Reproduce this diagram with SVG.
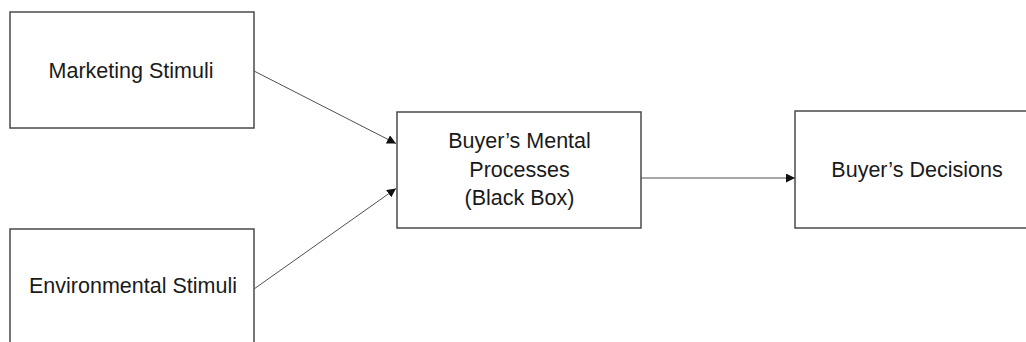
<svg xmlns="http://www.w3.org/2000/svg" width="1026" height="342" viewBox="0 0 1026 342">
<style>
.box{fill:#fff;stroke:#4a4a4a;stroke-width:1.5}
.lbl{font-family:"Liberation Sans",Arial,sans-serif;font-size:21.5px;fill:#1a1a1a;text-anchor:middle}
.con{stroke:#505050;stroke-width:1;fill:none;marker-end:url(#ah)}
</style>
<defs>
<marker id="ah" viewBox="0 0 10 10" refX="10" refY="5" markerWidth="9" markerHeight="9" markerUnits="userSpaceOnUse" orient="auto">
<path d="M0,0 L10,5 L0,10 Z" fill="#111"/>
</marker>
</defs>
<rect width="1026" height="342" fill="#fff"/>
<g id="marketing">
<rect class="box" x="10" y="12" width="244" height="116"/>
<text class="lbl" x="131" y="78">Marketing Stimuli</text>
</g>
<g id="environmental">
<rect class="box" x="10" y="229" width="244" height="130"/>
<text class="lbl" x="133" y="293">Environmental Stimuli</text>
</g>
<g id="blackbox">
<rect class="box" x="397" y="112" width="244" height="116"/>
<text class="lbl" x="519.5" y="148">Buyer’s Mental</text>
<text class="lbl" x="519.5" y="176.5">Processes</text>
<text class="lbl" x="519.5" y="205">(Black Box)</text>
</g>
<g id="decisions">
<rect class="box" x="795" y="111" width="240" height="117"/>
<text class="lbl" x="917" y="177">Buyer’s Decisions</text>
</g>
<g id="connectors">
<line class="con" x1="254" y1="71" x2="396" y2="143.5"/>
<line class="con" x1="254" y1="289" x2="396" y2="188.5"/>
<line class="con" x1="641" y1="178" x2="795" y2="178"/>
</g>
</svg>
